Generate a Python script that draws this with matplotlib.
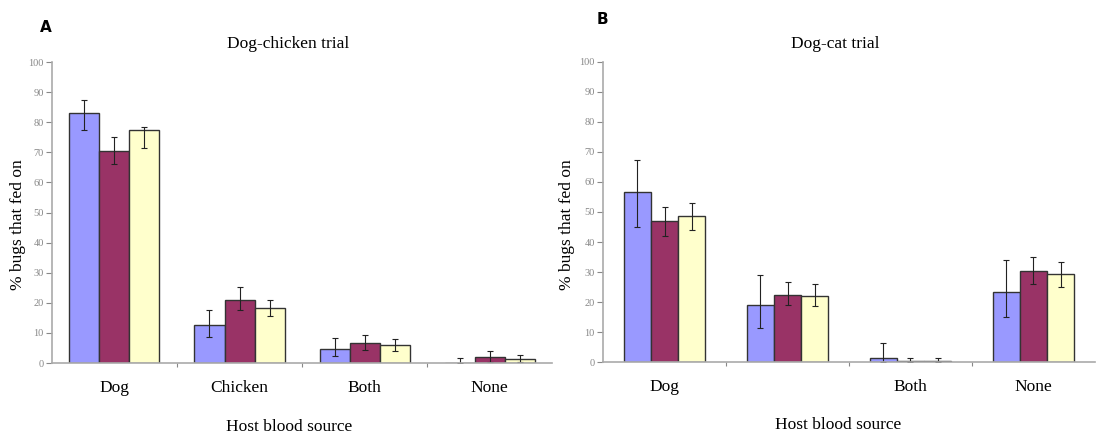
import numpy as np
import matplotlib.pyplot as plt

plt.rcParams['font.family'] = ['Liberation Serif', 'DejaVu Serif']

# colours for the three groups of bugs
colors = ['#9999FF', '#993366', '#FFFFCC']

# Dog-chicken trial
cats_a = ['Dog', 'Chicken', 'Both', 'None']
mean_a = [[83.0, 12.7, 4.7, 0.0],
          [70.5, 21.0, 6.5, 2.1],
          [77.5, 18.3, 6.0, 1.5]]
low_a = [[77.5, 8.7, 2.3, 0.0],
         [66.0, 17.5, 4.2, 0.5],
         [71.5, 15.5, 4.0, 0.3]]
high_a = [[87.5, 17.7, 8.2, 1.7],
          [75.0, 25.3, 9.4, 4.1],
          [78.5, 21.0, 8.0, 2.8]]

# Dog-cat trial (second label left blank)
cats_b = ['Dog', '', 'Both', 'None']
mean_b = [[56.7, 19.0, 1.3, 23.5],
          [47.0, 22.5, 0.5, 30.3],
          [48.5, 22.0, 0.5, 29.3]]
low_b = [[45.0, 11.3, 0.0, 15.0],
         [42.0, 19.0, 0.0, 26.0],
         [44.0, 18.7, 0.0, 25.2]]
high_b = [[67.3, 29.0, 6.5, 34.0],
          [51.7, 26.8, 1.5, 35.0],
          [53.0, 26.0, 1.5, 33.4]]

W, H = 1113, 437
fig = plt.figure(figsize=(W / 100, H / 100), dpi=100)
ax_a = fig.add_axes([0.0467, 0.1693, 0.4493, 0.6888])
ax_b = fig.add_axes([0.5418, 0.1710, 0.4420, 0.6878])


def px(x, y):
    # pixel position (from top-left) to figure fraction
    return x / W, 1 - y / H


def draw_panel(ax, cats, means, lows, highs, width):
    x = np.arange(len(cats)) + 0.5
    for i in range(3):
        m = np.array(means[i])
        err = [m - np.array(lows[i]), np.array(highs[i]) - m]
        ax.bar(x + (i - 1) * width, m, width, color=colors[i],
               edgecolor='#333333', linewidth=1.0)
        ax.errorbar(x + (i - 1) * width, m, yerr=err, fmt='none',
                    ecolor='#222222', elinewidth=0.8, capsize=2, capthick=0.8)
    ax.set_xlim(0, len(cats))
    ax.set_ylim(0, 100)
    ax.set_yticks(range(0, 101, 10))
    ax.set_xticks(range(1, len(cats)))
    ax.set_xticklabels([])
    for xc, c in zip(x, cats):
        ax.text(xc, -0.083, c, transform=ax.get_xaxis_transform(),
                ha='center', va='center', fontsize=12.5)
    ax.tick_params(axis='y', labelsize=7.5, colors='#888888', length=4,
                   width=0.8, pad=2)
    ax.tick_params(axis='x', length=3, width=0.8, colors='#888888')
    for s in ['top', 'right']:
        ax.spines[s].set_visible(False)
    for s in ['left', 'bottom']:
        ax.spines[s].set_color('#aaaaaa')
        ax.spines[s].set_linewidth(1.2)


draw_panel(ax_a, cats_a, mean_a, low_a, high_a, 0.24)
draw_panel(ax_b, cats_b, mean_b, low_b, high_b, 0.22)

# titles, axis labels and panel letters
fig.text(*px(288, 44), 'Dog-chicken trial', fontsize=12.5, ha='center', va='center')
fig.text(*px(835, 44), 'Dog-cat trial', fontsize=12.5, ha='center', va='center')
fig.text(*px(289, 427), 'Host blood source', fontsize=12.5, ha='center', va='center')
fig.text(*px(838, 425), 'Host blood source', fontsize=12.5, ha='center', va='center')
fig.text(*px(18, 225), '% bugs that fed on', fontsize=12.5, rotation=90,
         ha='center', va='center')
fig.text(*px(567, 225), '% bugs that fed on', fontsize=12.5, rotation=90,
         ha='center', va='center')
fig.text(*px(46, 27), 'A', fontsize=11, fontweight='bold',
         family='DejaVu Sans', ha='center', va='center')
fig.text(*px(602, 20), 'B', fontsize=11, fontweight='bold',
         family='DejaVu Sans', ha='center', va='center')

fig.savefig('out.png', dpi=100)
